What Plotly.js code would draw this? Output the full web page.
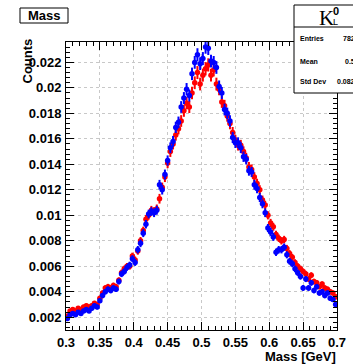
<!DOCTYPE html>
<html><head><meta charset="utf-8">
<script src="https://cdn.plot.ly/plotly-3.0.1.min.js"></script>
<style>html,body{margin:0;padding:0;background:#fff;} #plot{width:353px;height:364px;}</style>
</head><body><div id="plot"></div>
<script>
// bin centres (GeV), 100 bins of 0.004 from 0.3 to 0.7
const massBins = [
0.302,0.306,0.310,0.314,0.318,0.322,0.326,0.330,0.334,0.338,
0.342,0.346,0.350,0.354,0.358,0.362,0.366,0.370,0.374,0.378,
0.382,0.386,0.390,0.394,0.398,0.402,0.406,0.410,0.414,0.418,
0.422,0.426,0.430,0.434,0.438,0.442,0.446,0.450,0.454,0.458,
0.462,0.466,0.470,0.474,0.478,0.482,0.486,0.490,0.494,0.498,
0.502,0.506,0.510,0.514,0.518,0.522,0.526,0.530,0.534,0.538,
0.542,0.546,0.550,0.554,0.558,0.562,0.566,0.570,0.574,0.578,
0.582,0.586,0.590,0.594,0.598,0.602,0.606,0.610,0.614,0.618,
0.622,0.626,0.630,0.634,0.638,0.642,0.646,0.650,0.654,0.658,
0.662,0.666,0.670,0.674,0.678,0.682,0.686,0.690,0.694,0.698];
// counts in units of 1e-3
const blueE3 = [
1.9,2.2,2.3,2.2,2.4,2.3,2.5,2.6,2.5,2.7,
2.9,2.8,3.3,3.7,4.0,4.2,4.1,4.3,4.2,4.8,
5.4,5.6,5.9,6.1,6.6,6.3,7.3,7.8,8.6,9.3,
10.1,10.3,10.2,10.4,12.4,12.0,13.2,14.3,15.3,15.8,
16.9,17.3,18.5,19.2,19.9,19.4,21.1,22.0,22.6,21.9,
22.3,23.2,23.1,22.1,22.0,21.6,20.1,19.6,18.3,18.0,
17.4,16.1,15.7,15.7,15.3,14.6,14.4,13.5,13.4,12.4,
12.1,11.4,10.9,10.2,9.0,8.7,8.3,7.1,7.3,7.3,
7.5,6.9,6.4,6.2,5.8,5.5,5.2,4.3,5.0,4.3,
4.7,4.1,4.4,3.9,4.0,3.7,3.9,3.5,3.4,3.0];
const redE3 = [
2.1,2.5,2.6,2.5,2.7,2.6,2.8,2.9,2.8,2.9,
3.1,3.0,3.5,3.9,4.3,4.4,4.3,4.5,4.4,4.9,
5.5,5.8,6.0,6.0,6.8,6.5,7.2,8.0,8.8,9.7,
10.0,10.4,10.3,10.5,11.3,12.2,13.0,14.1,15.0,15.6,
16.3,16.8,17.4,18.2,18.8,18.5,19.6,20.4,21.2,20.3,
21.0,21.5,21.8,21.0,21.4,20.3,19.9,18.9,18.6,17.8,
17.2,16.5,15.9,15.5,15.5,15.0,14.5,13.8,13.6,13.0,
12.5,12.0,11.2,10.8,10.0,9.4,9.1,8.5,8.2,8.0,
8.1,7.4,7.0,6.7,6.3,6.0,5.8,5.6,5.4,5.0,
5.3,4.8,4.7,4.4,4.6,4.3,4.2,4.0,3.9,3.6];
// statistical errors in units of 1e-4
const errE4 = [
1.5,1.6,1.6,1.6,1.7,1.6,1.7,1.7,1.7,1.8,
1.8,1.8,1.9,2.1,2.1,2.2,2.2,2.2,2.2,2.3,
2.5,2.5,2.6,2.6,2.7,2.7,2.9,3.0,3.1,3.3,
3.4,3.4,3.4,3.5,3.8,3.7,3.9,4.0,4.2,4.3,
4.4,4.5,4.6,4.7,4.8,4.7,4.9,5.0,5.1,5.0,
5.1,5.2,5.2,5.0,5.0,5.0,4.8,4.7,4.6,4.5,
4.5,4.3,4.2,4.2,4.2,4.1,4.1,3.9,3.9,3.8,
3.7,3.6,3.5,3.4,3.2,3.2,3.1,2.9,2.9,2.9,
2.9,2.8,2.7,2.7,2.6,2.5,2.5,2.3,2.4,2.3,
2.3,2.2,2.2,2.1,2.1,2.1,2.1,2.0,2.0,1.9];
const halfBinWidth = 0.002;
const xTickVals = [0.3,0.35,0.4,0.45,0.5,0.55,0.6,0.65,0.7];
const xTickText = ["0.3","0.35","0.4","0.45","0.5","0.55","0.6","0.65","0.7"];
const yTickVals = [0.002,0.004,0.006,0.008,0.01,0.012,0.014,0.016,0.018,0.02,0.022];
const yTickText = ["0.002","0.004","0.006","0.008","0.01","0.012","0.014","0.016","0.018","0.02","0.022"];
const statLabels = ["Entries","Mean","Std Dev"];
const statValues = ["7829","0.5135","0.08229"];

const W=353,H=364,L=66,R=16,T=42,B=34;
const pw=W-L-R, ph=H-T-B;
const fx=p=>(p-L)/pw, fy=p=>(H-B-p)/ph;

function series(vals,color){
  return {
    x: massBins, y: vals.map(v=>v*1e-3), type:'scatter', mode:'markers',
    marker:{color:color,size:5.5,symbol:'circle'},
    error_y:{type:'data',array:errE4.map(e=>e*1e-4),color:color,thickness:2,width:0},
    error_x:{type:'constant',value:halfBinWidth,color:color,thickness:2,width:0},
    hoverinfo:'skip', showlegend:false, cliponaxis:true
  };
}
const data=[series(redE3,'rgb(255,0,0)'),series(blueE3,'rgb(0,0,255)')];

const tf={family:'"Liberation Sans", Arial, sans-serif',size:13,color:'#000',weight:'bold'};
const sf={family:'"Liberation Sans", Arial',size:7,color:'#000',weight:'bold'};
const layout={
  width:W,height:H,margin:{l:L,r:R,t:T,b:B,pad:0},
  paper_bgcolor:'#fff',plot_bgcolor:'#fff',showlegend:false,
  xaxis:{range:[0.3,0.7],tickmode:'array',tickvals:xTickVals,ticktext:xTickText,
    ticks:'inside',ticklen:8,tickwidth:1,tickcolor:'#000',showline:true,linecolor:'#000',linewidth:1,
    mirror:'ticks',showgrid:true,gridcolor:'#c8c8c8',griddash:'dot',gridwidth:1,zeroline:false,
    minor:{tickmode:'linear',tick0:0.3,dtick:0.01,ticks:'inside',ticklen:4,tickcolor:'#000',showgrid:false},
    tickfont:tf,ticklabelstandoff:0},
  yaxis:{range:[0.001,0.0236],tickmode:'array',tickvals:yTickVals,ticktext:yTickText,
    ticks:'inside',ticklen:8,tickwidth:1,tickcolor:'#000',showline:true,linecolor:'#000',linewidth:1,
    mirror:'ticks',showgrid:true,gridcolor:'#c8c8c8',griddash:'dot',gridwidth:1,zeroline:false,
    minor:{tickmode:'linear',tick0:0,dtick:0.0004,ticks:'inside',ticklen:4,tickcolor:'#000',showgrid:false},
    tickfont:tf,ticklabelstandoff:1},
  shapes:[
    {type:'rect',xref:'paper',yref:'paper',x0:fx(20),x1:fx(68),y0:fy(23),y1:fy(8),line:{color:'#000',width:1},fillcolor:'#fff',layer:'above'},
    {type:'rect',xref:'paper',yref:'paper',x0:fx(294),x1:fx(370),y0:fy(93),y1:fy(5),line:{color:'#000',width:1},fillcolor:'#fff',layer:'above'},
    {type:'line',xref:'paper',yref:'paper',x0:fx(294),x1:fx(370),y0:fy(27),y1:fy(27),line:{color:'#000',width:1},layer:'above'}
  ],
  annotations:[
    {text:'Mass',xref:'paper',yref:'paper',x:fx(44),y:fy(15.5),xanchor:'center',yanchor:'middle',showarrow:false,font:tf},
    {text:'Counts',xref:'paper',yref:'paper',x:fx(27),y:fy(37),xanchor:'center',yanchor:'top',textangle:-90,showarrow:false,font:tf},
    {text:'Mass [GeV]',xref:'paper',yref:'paper',x:fx(338),y:fy(356),xanchor:'right',yanchor:'middle',showarrow:false,font:tf},
    {text:'K',xref:'paper',yref:'paper',x:fx(326),y:fy(17.5),xanchor:'center',yanchor:'middle',showarrow:false,font:{family:'"Liberation Serif", serif',size:21,color:'#000'}},
    {text:'0',xref:'paper',yref:'paper',x:fx(335.5),y:fy(11),xanchor:'center',yanchor:'middle',showarrow:false,font:{family:'"Liberation Sans", Arial',size:11,color:'#000',weight:'bold'}},
    {text:'L',xref:'paper',yref:'paper',x:fx(335.5),y:fy(22),xanchor:'center',yanchor:'middle',showarrow:false,font:{family:'"Liberation Sans", Arial',size:9,color:'#000'}}
  ]
};
const rowY=[38,61,82];
statLabels.forEach((s,i)=>{
  layout.annotations.push({text:s,xref:'paper',yref:'paper',x:fx(298),y:fy(rowY[i]),xanchor:'left',yanchor:'middle',showarrow:false,font:sf});
});
const valX=[341,343,335];
statValues.forEach((s,i)=>{
  layout.annotations.push({text:s,xref:'paper',yref:'paper',x:fx(valX[i]),y:fy(rowY[i]),xanchor:'left',yanchor:'middle',showarrow:false,font:sf});
});
Plotly.newPlot('plot',data,layout,{displayModeBar:false,staticPlot:true});
</script></body></html>
